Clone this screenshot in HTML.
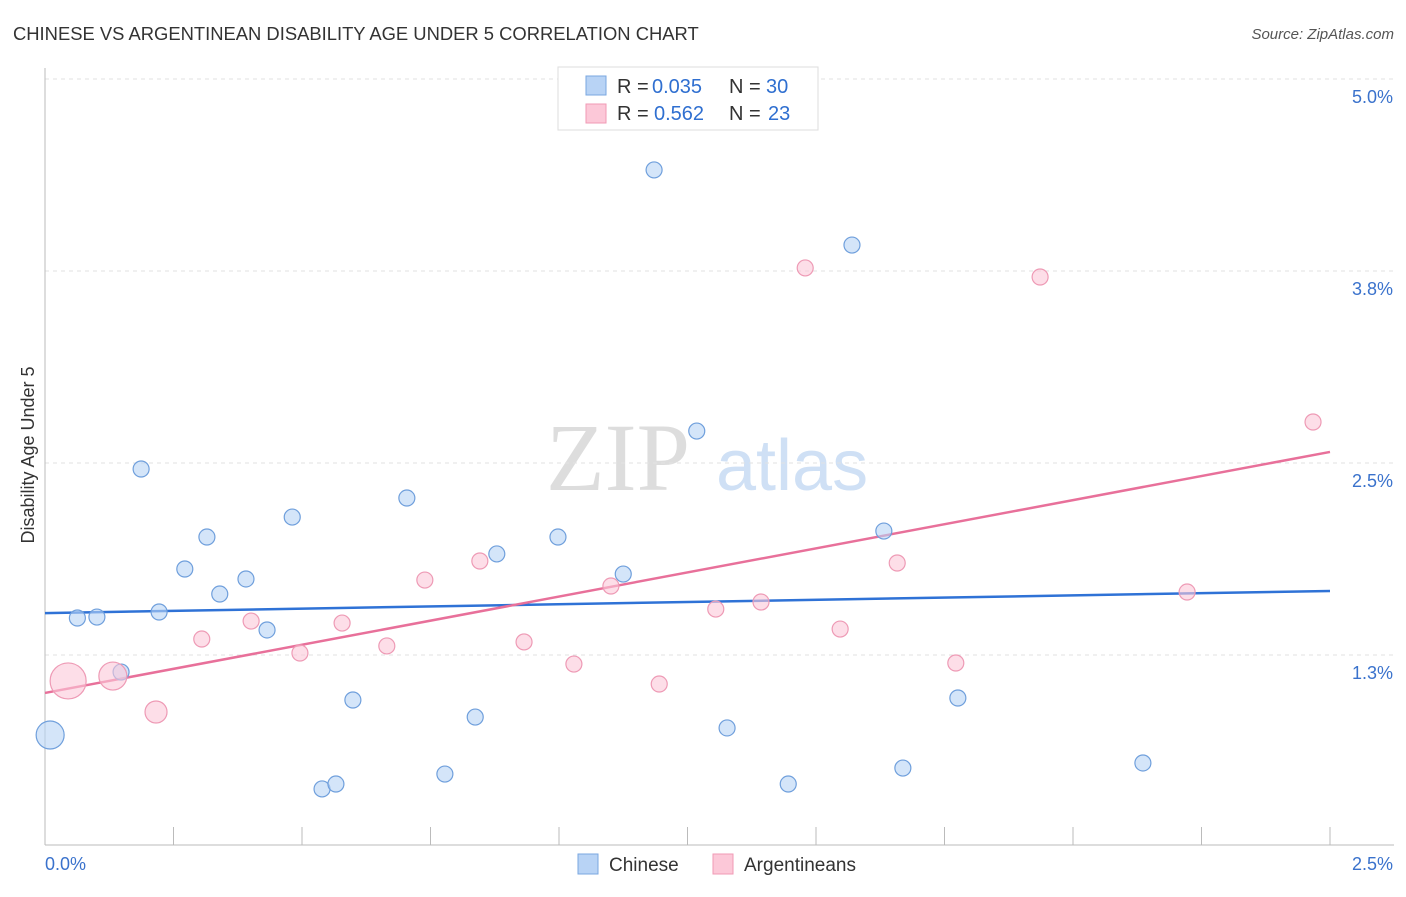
<!DOCTYPE html>
<html><head><meta charset="utf-8"><style>
body{margin:0;background:#fff;font-family:"Liberation Sans",sans-serif;}
svg text{font-family:"Liberation Sans",sans-serif;}
</style></head><body>
<svg id="chart" width="1406" height="892">
<text x="13" y="40" font-size="18.4" fill="#333">CHINESE VS ARGENTINEAN DISABILITY AGE UNDER 5 CORRELATION CHART</text>
<text x="1394" y="39" font-size="15" fill="#555" font-style="italic" text-anchor="end">Source: ZipAtlas.com</text>
<text x="690" y="490" font-size="96" fill="#ddd" text-anchor="end" style="font-family:'Liberation Serif',serif">ZIP</text>
<text x="716" y="490" font-size="72" fill="#cfe0f5">atlas</text>
<g id="grid"></g><g id="axes"></g><g id="lines"></g><g id="pts"></g>
<text transform="translate(34,455) rotate(-90)" font-size="18" fill="#333" text-anchor="middle">Disability Age Under 5</text>
<g>
<rect x="558" y="67" width="260" height="63" fill="#fff" stroke="#ddd"/>
<rect x="586" y="76" width="20" height="19" fill="#b8d3f5" stroke="#7aa7e0"/>
<rect x="586" y="104" width="20" height="19" fill="#fcc8d8" stroke="#f09ab5"/>
<text x="617" y="93" font-size="20" fill="#333">R =</text>
<text x="652" y="93" font-size="20" fill="#2f6fd0">0.035</text>
<text x="729" y="93" font-size="20" fill="#333">N =</text>
<text x="766" y="93" font-size="20" fill="#2f6fd0">30</text>
<text x="617" y="120" font-size="20" fill="#333">R =</text>
<text x="654" y="120" font-size="20" fill="#2f6fd0">0.562</text>
<text x="729" y="120" font-size="20" fill="#333">N =</text>
<text x="768" y="120" font-size="20" fill="#2f6fd0">23</text>
</g>
<g>
<rect x="578" y="854" width="20" height="20" fill="#b8d3f5" stroke="#7aa7e0"/>
<text x="609" y="871" font-size="19" fill="#333">Chinese</text>
<rect x="713" y="854" width="20" height="20" fill="#fcc8d8" stroke="#f09ab5"/>
<text x="744" y="871" font-size="19" fill="#333">Argentineans</text>
</g>
</svg>
<script>
const chineseX=[0.010,0.063,0.101,0.148,0.187,0.222,0.272,0.315,0.340,0.391,0.432,0.481,0.539,0.566,0.599,0.704,0.778,0.837,0.879,0.998,1.125,1.185,1.268,1.327,1.446,1.570,1.632,1.669,1.776,2.136];
const chineseY=[0.729,1.491,1.497,1.139,2.461,1.530,1.810,2.018,1.647,1.745,1.413,2.148,0.378,0.410,0.957,2.272,0.475,0.846,1.908,2.018,1.777,4.408,2.708,0.775,0.410,3.919,2.057,0.514,0.970,0.547];
const chineseR=[14,8,8,8,8,8,8,8,8,8,8,8,8,8,8,8,8,8,8,8,8,8,8,8,8,8,8,8,8,8];
const argX=[0.045,0.132,0.216,0.305,0.401,0.496,0.578,0.665,0.739,0.846,0.932,1.029,1.101,1.195,1.305,1.393,1.479,1.547,1.658,1.772,1.936,2.222,2.467];
const argY=[1.081,1.113,0.879,1.354,1.471,1.263,1.458,1.309,1.738,1.862,1.335,1.191,1.699,1.061,1.549,1.595,3.770,1.419,1.849,1.198,3.711,1.660,2.767];
const argR=[18,14,11,8,8,8,8,8,8,8,8,8,8,8,8,8,8,8,8,8,8,8,8];
const chineseTrend=[1.523,1.667];
const argTrend=[1.003,2.572];
const yTicks=[5.0,3.75,2.5,1.25];
const yTickLabels=["5.0%","3.8%","2.5%","1.3%"];
const xTickLabels=["0.0%","2.5%"];
const NS="http://www.w3.org/2000/svg";
const sx=v=>45+v*514, sy=v=>847-v*153.6;
function mk(parent,tag,attrs){const e=document.createElementNS(NS,tag);for(const k in attrs)e.setAttribute(k,attrs[k]);document.getElementById(parent).appendChild(e);return e;}
yTicks.forEach((t,i)=>{
 const g=mk('grid','line',{x1:45,x2:1394,y1:sy(t),y2:sy(t),stroke:'#e2e2e2','stroke-dasharray':'4,4'});
 
 
 const l=mk('grid','text',{x:1393,y:sy(t)+24,'font-size':18,fill:'#3a72cc','text-anchor':'end'});
 l.textContent=yTickLabels[i];
 
 
});
const ax=mk('axes','line',{x1:45,x2:45,y1:68,y2:845,stroke:'#bbb'});


const bx=mk('axes','line',{x1:45,x2:1394,y1:845,y2:845,stroke:'#bbb'});


for(let i=0;i<=10;i++){const v=i*0.25;const t=mk('axes','line',{x1:sx(v),x2:sx(v),y1:827,y2:845,stroke:'#bbb'});
 
 }
[[0,'start',45],[2.5,'end',1393]].forEach((a,i)=>{const t=mk('axes','text',{x:a[2],y:870,'font-size':18,fill:'#3a72cc','text-anchor':a[1]});t.textContent=xTickLabels[i];
 
 });
const l1=mk('lines','line',{x1:sx(0),x2:sx(2.5),y1:sy(chineseTrend[0]),y2:sy(chineseTrend[1]),stroke:'#2f72d6','stroke-width':2.5});


const l2=mk('lines','line',{x1:sx(0),x2:sx(2.5),y1:sy(argTrend[0]),y2:sy(argTrend[1]),stroke:'#e8709a','stroke-width':2.5});


chineseX.forEach((x,i)=>{const c=mk('pts','circle',{cx:sx(x),cy:sy(chineseY[i]),r:chineseR[i],fill:'rgba(184,211,245,0.6)',stroke:'#6f9fdc','stroke-width':1.2});
 
 });
argX.forEach((x,i)=>{const c=mk('pts','circle',{cx:sx(x),cy:sy(argY[i]),r:argR[i],fill:'rgba(252,200,216,0.6)',stroke:'#ee9ab5','stroke-width':1.2});
 
 });
</script>
</body></html>
